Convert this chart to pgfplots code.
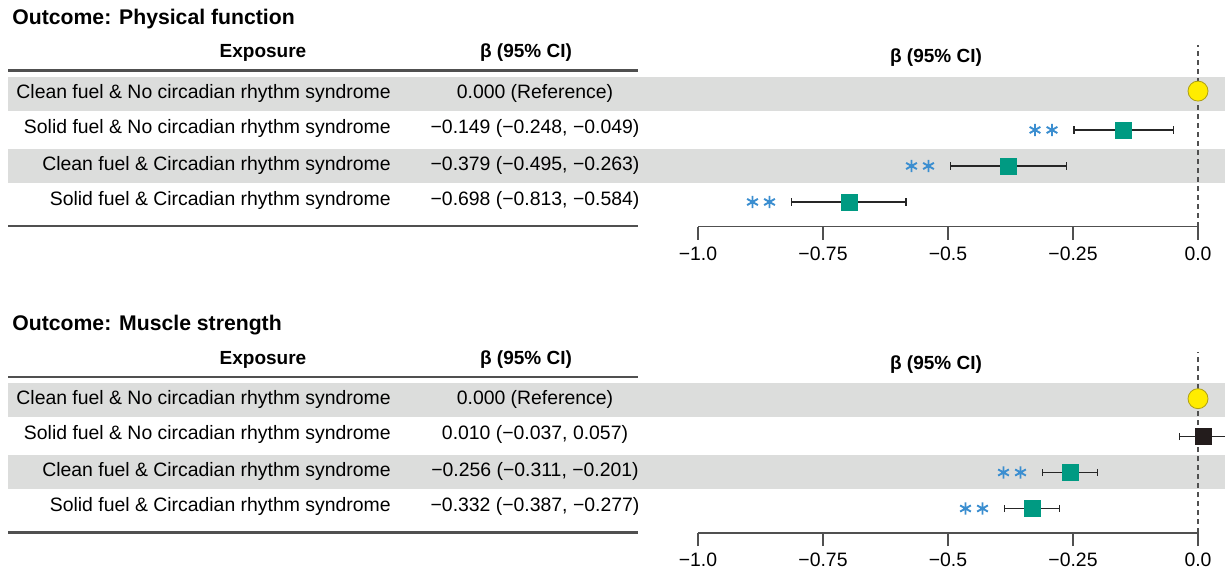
\documentclass[border=0pt]{standalone}
\usepackage{pgfplots}
\pgfplotsset{compat=1.18}
\usepackage{pgfplotstable}
\usepackage{fontspec}
\setmainfont{Liberation Sans}

\definecolor{band}{RGB}{220,221,220}
\definecolor{teal1}{RGB}{0,154,130}
\definecolor{yel}{RGB}{255,236,0}
\definecolor{yeledge}{RGB}{175,160,20}
\definecolor{starblue}{RGB}{59,142,208}
\definecolor{darksq}{RGB}{35,28,28}
\definecolor{rulegray}{RGB}{80,80,80}

% Physical function: significant rows (y: 4=row1 ... 1=row4)
\pgfplotstableread{
y b lo hi
3 -0.149 -0.248 -0.049
2 -0.379 -0.495 -0.263
1 -0.698 -0.813 -0.584
}\pfsig
% Muscle strength: significant rows
\pgfplotstableread{
y b lo hi
2 -0.256 -0.311 -0.201
1 -0.332 -0.387 -0.277
}\mssig
% Muscle strength: non-significant row
\pgfplotstableread{
y b lo hi
3 0.010 -0.037 0.057
}\msns

\newcommand\bodyfont{\fontsize{9.7}{11}\selectfont}
\newcommand\headfont{\fontsize{9.5}{11}\selectfont\bfseries}
\newcommand\titlefont{\fontsize{10.6}{12}\selectfont\bfseries}

\pgfplotsset{forest/.style={
  scale only axis, width=250pt, height=90.84pt,
  xmin=-1, xmax=0, ymin=0.314, ymax=5.36,
  axis x line*=bottom, axis y line=none,
  xtick={-1,-0.75,-0.5,-0.25,0},
  xticklabels={−1.0,−0.75,−0.5,−0.25,0.0},
  tick align=outside, major tick length=6.5pt,
  xtick style={rulegray, line width=0.7pt},
  axis line style={rulegray, line width=0.75pt},
  ticklabel style={font=\bodyfont, text=black},
  clip=false,
  anchor=south west,
},
sqplot/.style={only marks, mark=square*, mark size=4pt,
  mark options={fill=#1, draw=#1},
  error bars/.cd, x dir=both, x explicit, error mark=|,
  error bar style={line width=0.65pt, black!85},
  error mark options={mark size=1.8pt, line width=0.65pt, black!85}},
starplot/.style={only marks, mark=asterisk, mark size=3.1pt,
  mark options={starblue, line width=0.95pt}},
refplot/.style={only marks, mark=*, mark size=5pt,
  mark options={fill=yel, draw=yeledge, line width=0.4pt}},
}

\begin{document}
\begin{tikzpicture}[x=0.5pt,y=0.5pt]
\useasboundingbox (0,0) rectangle (1225,572);
\clip (0,0) rectangle (1225,572);

\begin{scope}[shift={(0,572)}, yscale=-1]
  % ---------- Panel 1 ----------
  \fill[band] (8,77) rectangle (1225,111);
  \fill[band] (8,149) rectangle (1225,183);
  \node[anchor=west, inner sep=0] at (12,19) {\titlefont Outcome: Physical function};
  \node[inner sep=0] at (263,53) {\headfont Exposure};
  \node[inner sep=0] at (526,53) {\headfont β (95\% CI)};
  \node[inner sep=0] at (936,58) {\headfont β (95\% CI)};
  \draw[rulegray, line width=1.1pt] (8,70.5) -- (638,70.5);
  \draw[rulegray, line width=1.1pt] (8,226) -- (638,226);
  \node[anchor=east, inner sep=0] at (391,93) {\bodyfont Clean fuel \& No circadian rhythm syndrome};
  \node[anchor=east, inner sep=0] at (391,128) {\bodyfont Solid fuel \& No circadian rhythm syndrome};
  \node[anchor=east, inner sep=0] at (391,165) {\bodyfont Clean fuel \& Circadian rhythm syndrome};
  \node[anchor=east, inner sep=0] at (391,200) {\bodyfont Solid fuel \& Circadian rhythm syndrome};
  \node[inner sep=0] at (535,93) {\bodyfont 0.000 (Reference)};
  \node[inner sep=0] at (535,128) {\bodyfont −0.149 (−0.248, −0.049)};
  \node[inner sep=0] at (535,165) {\bodyfont −0.379 (−0.495, −0.263)};
  \node[inner sep=0] at (535,200) {\bodyfont −0.698 (−0.813, −0.584)};
  % ---------- Panel 2 ----------
  \fill[band] (8,383.5) rectangle (1225,417.5);
  \fill[band] (8,455.5) rectangle (1225,489.5);
  \node[anchor=west, inner sep=0] at (12,325.5) {\titlefont Outcome: Muscle strength};
  \node[inner sep=0] at (263,359.5) {\headfont Exposure};
  \node[inner sep=0] at (526,359.5) {\headfont β (95\% CI)};
  \node[inner sep=0] at (936,364.5) {\headfont β (95\% CI)};
  \draw[rulegray, line width=1.1pt] (8,377) -- (638,377);
  \draw[rulegray, line width=1.1pt] (8,532.5) -- (638,532.5);
  \node[anchor=east, inner sep=0] at (391,399.5) {\bodyfont Clean fuel \& No circadian rhythm syndrome};
  \node[anchor=east, inner sep=0] at (391,434.5) {\bodyfont Solid fuel \& No circadian rhythm syndrome};
  \node[anchor=east, inner sep=0] at (391,471.5) {\bodyfont Clean fuel \& Circadian rhythm syndrome};
  \node[anchor=east, inner sep=0] at (391,506.5) {\bodyfont Solid fuel \& Circadian rhythm syndrome};
  \node[inner sep=0] at (535,399.5) {\bodyfont 0.000 (Reference)};
  \node[inner sep=0] at (535,434.5) {\bodyfont 0.010 (−0.037, 0.057)};
  \node[inner sep=0] at (535,471.5) {\bodyfont −0.256 (−0.311, −0.201)};
  \node[inner sep=0] at (535,506.5) {\bodyfont −0.332 (−0.387, −0.277)};
\end{scope}

% ---------- Panel 1 plot ----------
\begin{axis}[forest, at={(349pt,172.65pt)}]
  \draw[rulegray, line width=0.7pt, dash pattern=on 2.5pt off 2pt]
    (axis cs:0,0.314) -- (axis cs:0,5.36);
  \addplot[refplot] coordinates {(0,4.08)};
  \addplot[sqplot=teal1] table[x=b, y=y,
    x error plus expr=\thisrow{hi}-\thisrow{b},
    x error minus expr=\thisrow{b}-\thisrow{lo}] {\pfsig};
  \addplot[starplot] table[x expr=\thisrow{lo}-0.078, y=y] {\pfsig};
  \addplot[starplot] table[x expr=\thisrow{lo}-0.044, y=y] {\pfsig};
\end{axis}

% ---------- Panel 2 plot ----------
\begin{axis}[forest, at={(349pt,19.4pt)}]
  \draw[rulegray, line width=0.7pt, dash pattern=on 2.5pt off 2pt]
    (axis cs:0,0.314) -- (axis cs:0,5.36);
  \addplot[refplot] coordinates {(0,4.05)};
  \addplot[sqplot=darksq] table[x=b, y=y,
    x error plus expr=\thisrow{hi}-\thisrow{b},
    x error minus expr=\thisrow{b}-\thisrow{lo}] {\msns};
  \addplot[sqplot=teal1] table[x=b, y=y,
    x error plus expr=\thisrow{hi}-\thisrow{b},
    x error minus expr=\thisrow{b}-\thisrow{lo}] {\mssig};
  \addplot[starplot] table[x expr=\thisrow{lo}-0.078, y=y] {\mssig};
  \addplot[starplot] table[x expr=\thisrow{lo}-0.044, y=y] {\mssig};
\end{axis}
\end{tikzpicture}
\end{document}
